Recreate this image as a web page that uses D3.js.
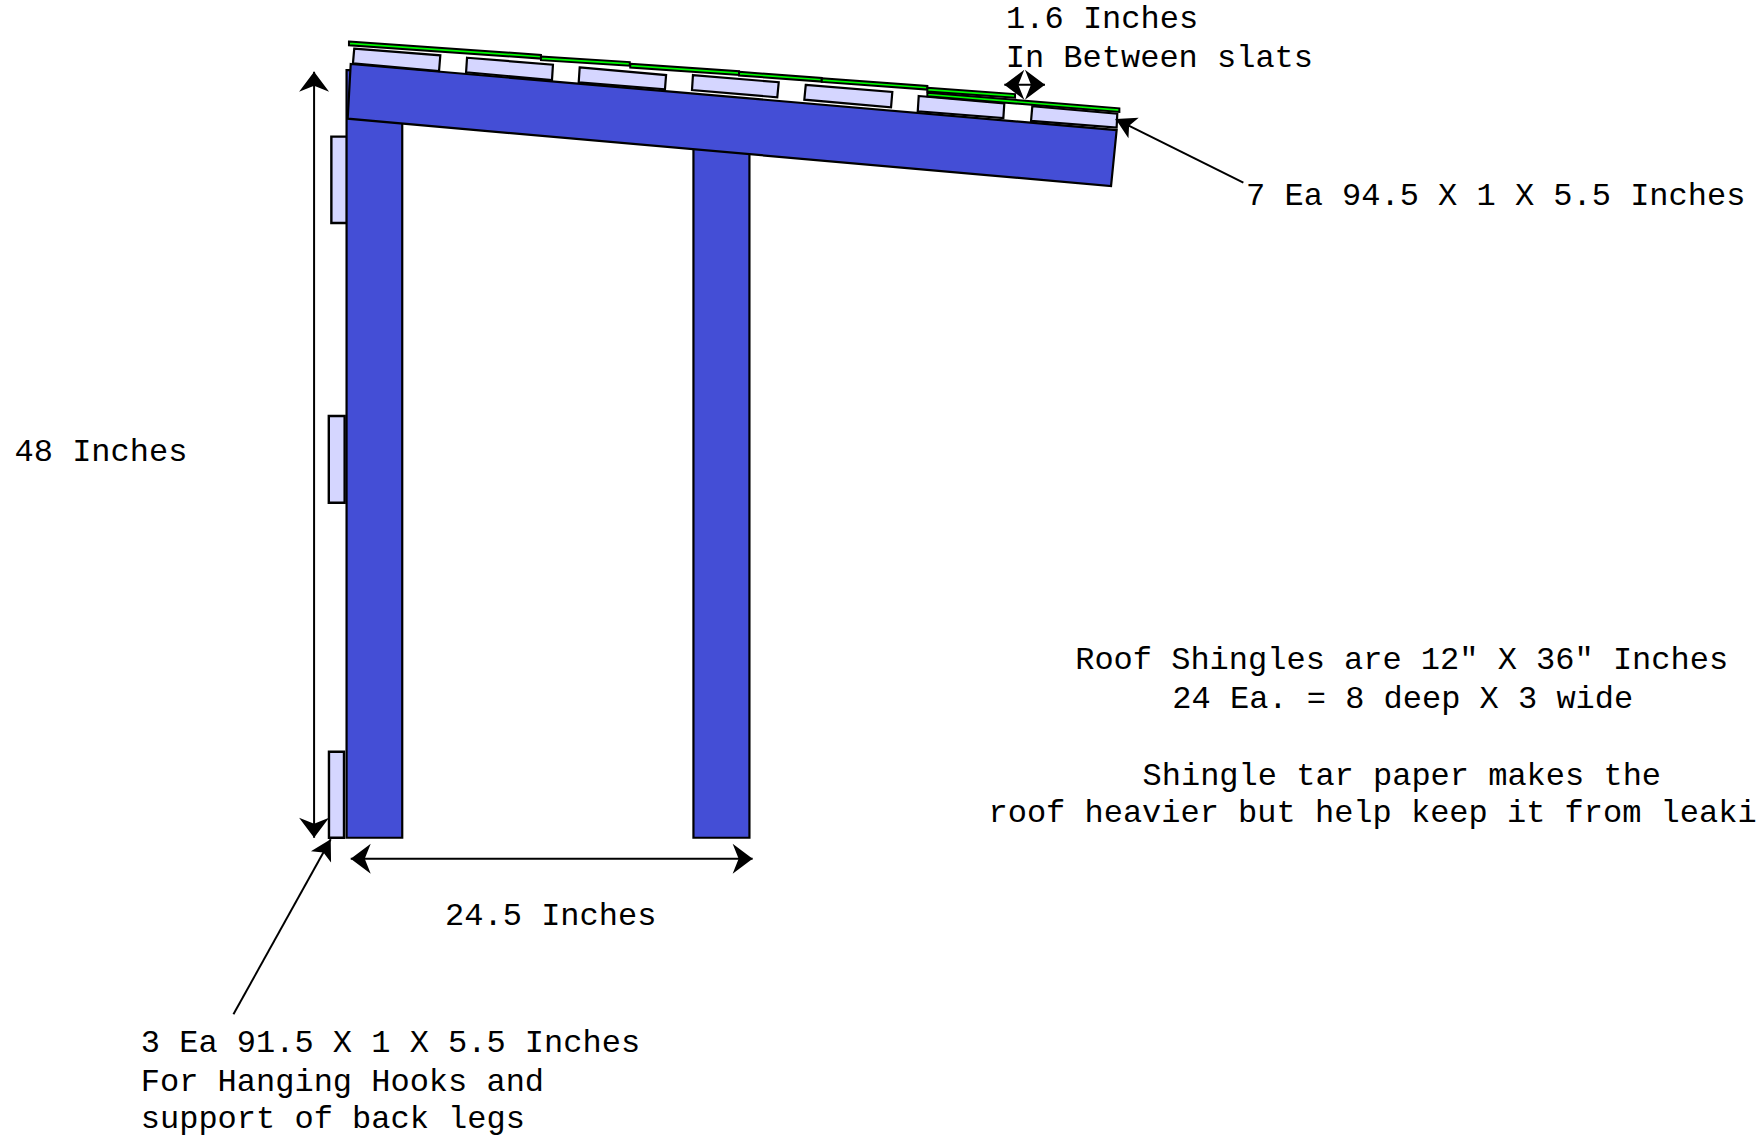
<!DOCTYPE html>
<html>
<head>
<meta charset="utf-8">
<script src="https://cdn.jsdelivr.net/npm/d3@7"></script>
<style>
html,body{margin:0;padding:0;background:#fff;overflow:hidden}
svg{display:block}
text{font-family:"Liberation Mono",monospace;font-size:32px;fill:#000}
</style>
</head>
<body>
<script>
// Drawing geometry, in drawing inches [x, y]
const legs = [
  [[21.66,4.38],[25.14,4.38],[25.14,52.36],[21.66,52.36]],
  [[43.34,6.88],[46.84,6.88],[46.84,52.36],[43.34,52.36]]
];
const rails = [
  [[20.71,8.54],[21.69,8.54],[21.69,13.94],[20.71,13.94]],
  [[20.55,26.0],[21.54,26.0],[21.54,31.42],[20.55,31.42]],
  [[20.56,46.98],[21.5,46.98],[21.5,52.36],[20.56,52.36]]
];
const beam = [[21.92,4.0],[69.79,8.13],[69.44,11.63],[21.73,7.42]];
const slats = [
  [[22.14,3.04],[27.52,3.46],[27.44,4.44],[22.06,3.96]],
  [[29.19,3.61],[34.56,4.04],[34.5,5.0],[29.13,4.52]],
  [[36.23,4.21],[41.63,4.69],[41.56,5.58],[36.17,5.14]],
  [[43.31,4.69],[48.67,5.14],[48.58,6.08],[43.25,5.63]],
  [[50.36,5.31],[55.77,5.75],[55.69,6.71],[50.27,6.23]],
  [[57.42,6.0],[62.77,6.46],[62.71,7.38],[57.36,6.96]],
  [[64.52,6.64],[69.83,7.11],[69.79,7.98],[64.44,7.56]]
];
const shingles = [
  [[57.96,5.79],[69.96,6.77]],
  [[21.81,2.6],[33.81,3.43]],
  [[33.81,3.53],[39.36,3.88]],
  [[39.39,3.99],[46.19,4.45]],
  [[46.19,4.49],[51.36,4.87]],
  [[51.36,4.89],[57.96,5.37]],
  [[57.96,5.49],[63.44,5.88]]
];
const shingleThickness = 0.23;
const doubleArrows = [
  [[19.63,4.48],[19.63,52.36]],
  [[21.92,53.67],[47.04,53.67]],
  [[62.77,5.29],[65.31,5.29]]
];
const leaders = [
  [[14.59,63.39],[20.67,52.46]],
  [[77.71,11.42],[69.73,7.44]]
];
const labels = [
  "1.6 Inches","In Between slats","7 Ea 94.5 X 1 X 5.5 Inches","48 Inches","24.5 Inches",
  "Roof Shingles are 12\u2033 X 36\u2033 Inches","24 Ea. = 8 deep X 3 wide",
  "Shingle tar paper makes the","roof heavier but help keep it from leaki",
  "3 Ea 91.5 X 1 X 5.5 Inches","For Hanging Hooks and","support of back legs"
];
const labelX = [62.88,62.86,77.88,0.91,27.82,67.2,73.27,71.41,61.78,8.8,8.8,8.8];
const labelY = [1.78,4.2,12.82,28.83,57.81,41.8,44.24,49.06,51.37,65.75,68.18,70.52];

const W = 1756, H = 1138;
const x = d3.scaleLinear().domain([0,109.75]).range([0,W]);
const y = d3.scaleLinear().domain([0,71.125]).range([0,H]);
const svg = d3.select("body").append("svg").attr("width",W).attr("height",H).attr("viewBox",`0 0 ${W} ${H}`);
svg.append("rect").attr("width",W).attr("height",H).attr("fill","#fff");

const BLUE="#444ed6", LIGHT="#d5d6ff", GREEN="#00f900";
const px = p => [x(p[0]),y(p[1])];
const line = d3.line();
const closed = pts => line(pts.map(px))+"Z";

function polys(data, fill, sw){
  svg.append("g").selectAll("path").data(data).join("path")
    .attr("d",closed).attr("fill",fill).attr("stroke","#000")
    .attr("stroke-width",sw).attr("stroke-linejoin","miter");
}
polys(rails,LIGHT,2.4);
polys(legs,BLUE,2.2);
polys([beam],BLUE,2.2);
polys(slats,LIGHT,2.2);
polys(shingles.map(s=>[s[0],s[1],[s[1][0],s[1][1]+shingleThickness],[s[0][0],s[0][1]+shingleThickness]]),GREEN,2);

// arrow head at tip, pointing away from `from`
function head(tip, from, L, hw, N){
  const t=px(tip), f=px(from), d=Math.hypot(t[0]-f[0],t[1]-f[1]);
  const u=[(t[0]-f[0])/d,(t[1]-f[1])/d], n=[-u[1],u[0]];
  const back=l=>[t[0]-u[0]*l,t[1]-u[1]*l];
  const b=back(L), c=back(N);
  return line([t,[b[0]+n[0]*hw,b[1]+n[1]*hw],c,[b[0]-n[0]*hw,b[1]-n[1]*hw]])+"Z";
}
const arrows = svg.append("g");
doubleArrows.forEach(([a,b])=>{
  arrows.append("path").attr("d",line([a,b].map(px))).attr("stroke","#000").attr("stroke-width",2).attr("fill","none");
  arrows.append("path").attr("d",head(a,b,20,15,14)).attr("fill","#000");
  arrows.append("path").attr("d",head(b,a,20,15,14)).attr("fill","#000");
});
leaders.forEach(([a,b])=>{
  arrows.append("path").attr("d",line([a,b].map(px))).attr("stroke","#000").attr("stroke-width",2).attr("fill","none");
  arrows.append("path").attr("d",head(b,a,20,11.5,15)).attr("fill","#000");
});

svg.append("g").selectAll("text").data(labels).join("text")
  .attr("x",(d,i)=>x(labelX[i])).attr("y",(d,i)=>y(labelY[i])).text(d=>d);
</script>
</body>
</html>
